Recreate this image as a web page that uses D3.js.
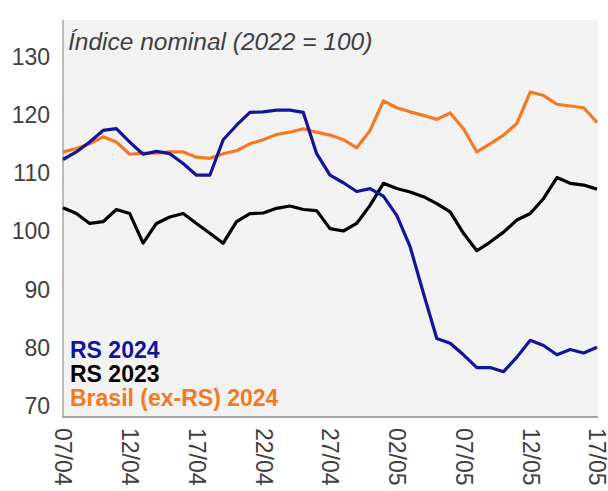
<!DOCTYPE html>
<html>
<head>
<meta charset="utf-8">
<script src="https://cdn.jsdelivr.net/npm/d3@7"></script>
<style>
  body { margin: 0; background: #fff; }
  text { font-family: "Liberation Sans", Arial, sans-serif; }
</style>
</head>
<body>
<script>
// dias (07/04 a 17/05)
var dias = ["2024-04-07","2024-04-08","2024-04-09","2024-04-10","2024-04-11","2024-04-12","2024-04-13",
            "2024-04-14","2024-04-15","2024-04-16","2024-04-17","2024-04-18","2024-04-19","2024-04-20",
            "2024-04-21","2024-04-22","2024-04-23","2024-04-24","2024-04-25","2024-04-26","2024-04-27",
            "2024-04-28","2024-04-29","2024-04-30","2024-05-01","2024-05-02","2024-05-03","2024-05-04",
            "2024-05-05","2024-05-06","2024-05-07","2024-05-08","2024-05-09","2024-05-10","2024-05-11",
            "2024-05-12","2024-05-13","2024-05-14","2024-05-15","2024-05-16","2024-05-17"];
var rs2024 = [112.4,113.7,115.4,117.4,117.7,115.4,113.3,113.8,113.4,111.7,109.7,109.7,115.8,118.3,
              120.5,120.6,120.9,120.9,120.5,113.4,109.7,108.4,106.9,107.4,106.1,102.8,97.4,89.4,
              81.6,80.8,78.8,76.6,76.6,75.9,78.4,81.3,80.4,78.8,79.7,79.1,80.1];
var rs2023 = [104.1,103.1,101.4,101.7,103.8,103.1,98.0,101.4,102.5,103.1,101.4,99.7,98.0,101.7,
              103.1,103.2,104.0,104.4,103.8,103.6,100.5,100.1,101.4,104.5,108.3,107.4,106.8,106.0,
              104.8,103.4,99.7,96.7,98.2,99.9,102.0,103.1,105.7,109.3,108.3,108.0,107.3];
var brasil2024 = [113.7,114.3,115.1,116.3,115.4,113.3,113.5,113.5,113.7,113.7,112.8,112.6,113.4,113.9,
                  115.1,115.8,116.7,117.1,117.7,117.1,116.6,115.8,114.4,117.4,122.5,121.3,120.6,120.0,
                  119.3,120.4,117.7,113.7,115.1,116.6,118.6,124.0,123.4,121.9,121.6,121.3,118.8];
var yTicks = [70, 80, 90, 100, 110, 120, 130];
var legenda = ["RS 2024", "RS 2023", "Brasil (ex-RS) 2024"];
var cores = ["#14149a", "#000000", "#f47a22"];

var parse = d3.timeParse("%Y-%m-%d");
var datas = dias.map(parse);

var svg = d3.select("body").append("svg")
            .attr("width", 608).attr("height", 491);

var x = d3.scaleTime().domain(d3.extent(datas)).range([63, 597]);
var y = d3.scaleLinear().domain([68.1, 136.4]).range([417, 20]);

// fundo da area do grafico
svg.append("rect")
   .attr("x", 63).attr("y", 20)
   .attr("width", 598 - 63).attr("height", 417 - 20)
   .style("fill", "#f2f2f2");

// eixo y
var yAxis = svg.append("g").attr("transform", "translate(63,0)")
   .call(d3.axisLeft(y).tickValues(yTicks).tickSize(0).tickPadding(13));
yAxis.select(".domain").remove();
yAxis.selectAll("text").style("font-size", "23px").style("fill", "#404040");
svg.append("line").attr("x1", 63).attr("x2", 63).attr("y1", 20).attr("y2", 418)
   .style("stroke", "#a6a6a6").style("stroke-width", 1.5);

// eixo x
var xTicks = datas.filter(function(d, i){ return i % 5 == 0; });
var xAxis = svg.append("g").attr("transform", "translate(0,417)")
   .call(d3.axisBottom(x).tickValues(xTicks).tickFormat(d3.timeFormat("%d/%m")).tickSize(0));
xAxis.select(".domain").remove();
xAxis.selectAll("text")
   .style("font-size", "23px").style("fill", "#404040")
   .attr("text-anchor", "start")
   .attr("transform", "rotate(90)")
   .attr("x", 11).attr("y", 0).attr("dy", "0.35em");
svg.append("line").attr("x1", 62).attr("x2", 598).attr("y1", 417).attr("y2", 417)
   .style("stroke", "#a6a6a6").style("stroke-width", 2);

// linhas
var line = d3.line()
   .x(function(d, i){ return x(datas[i]); })
   .y(function(d){ return y(d); });
var series = [brasil2024, rs2023, rs2024];
var seriesCores = [cores[2], cores[1], cores[0]];
svg.append("g").selectAll("path")
   .data(series)
   .enter().append("path")
   .attr("d", line)
   .style("fill", "none")
   .style("stroke", function(d, i){ return seriesCores[i]; })
   .style("stroke-width", 3.2)
   .style("stroke-linejoin", "round");

// titulo
svg.append("text")
   .text("Índice nominal (2022 = 100)")
   .attr("x", 68).attr("y", 50)
   .style("font-size", "24.5px").style("font-style", "italic").style("fill", "#404040");

// legenda
svg.append("g").selectAll("text")
   .data(legenda)
   .enter().append("text")
   .text(function(d){ return d; })
   .attr("x", 70)
   .attr("y", function(d, i){ return 358 + i * 24; })
   .style("font-size", "23px").style("font-weight", "700")
   .style("fill", function(d, i){ return cores[i]; });
</script>
</body>
</html>
